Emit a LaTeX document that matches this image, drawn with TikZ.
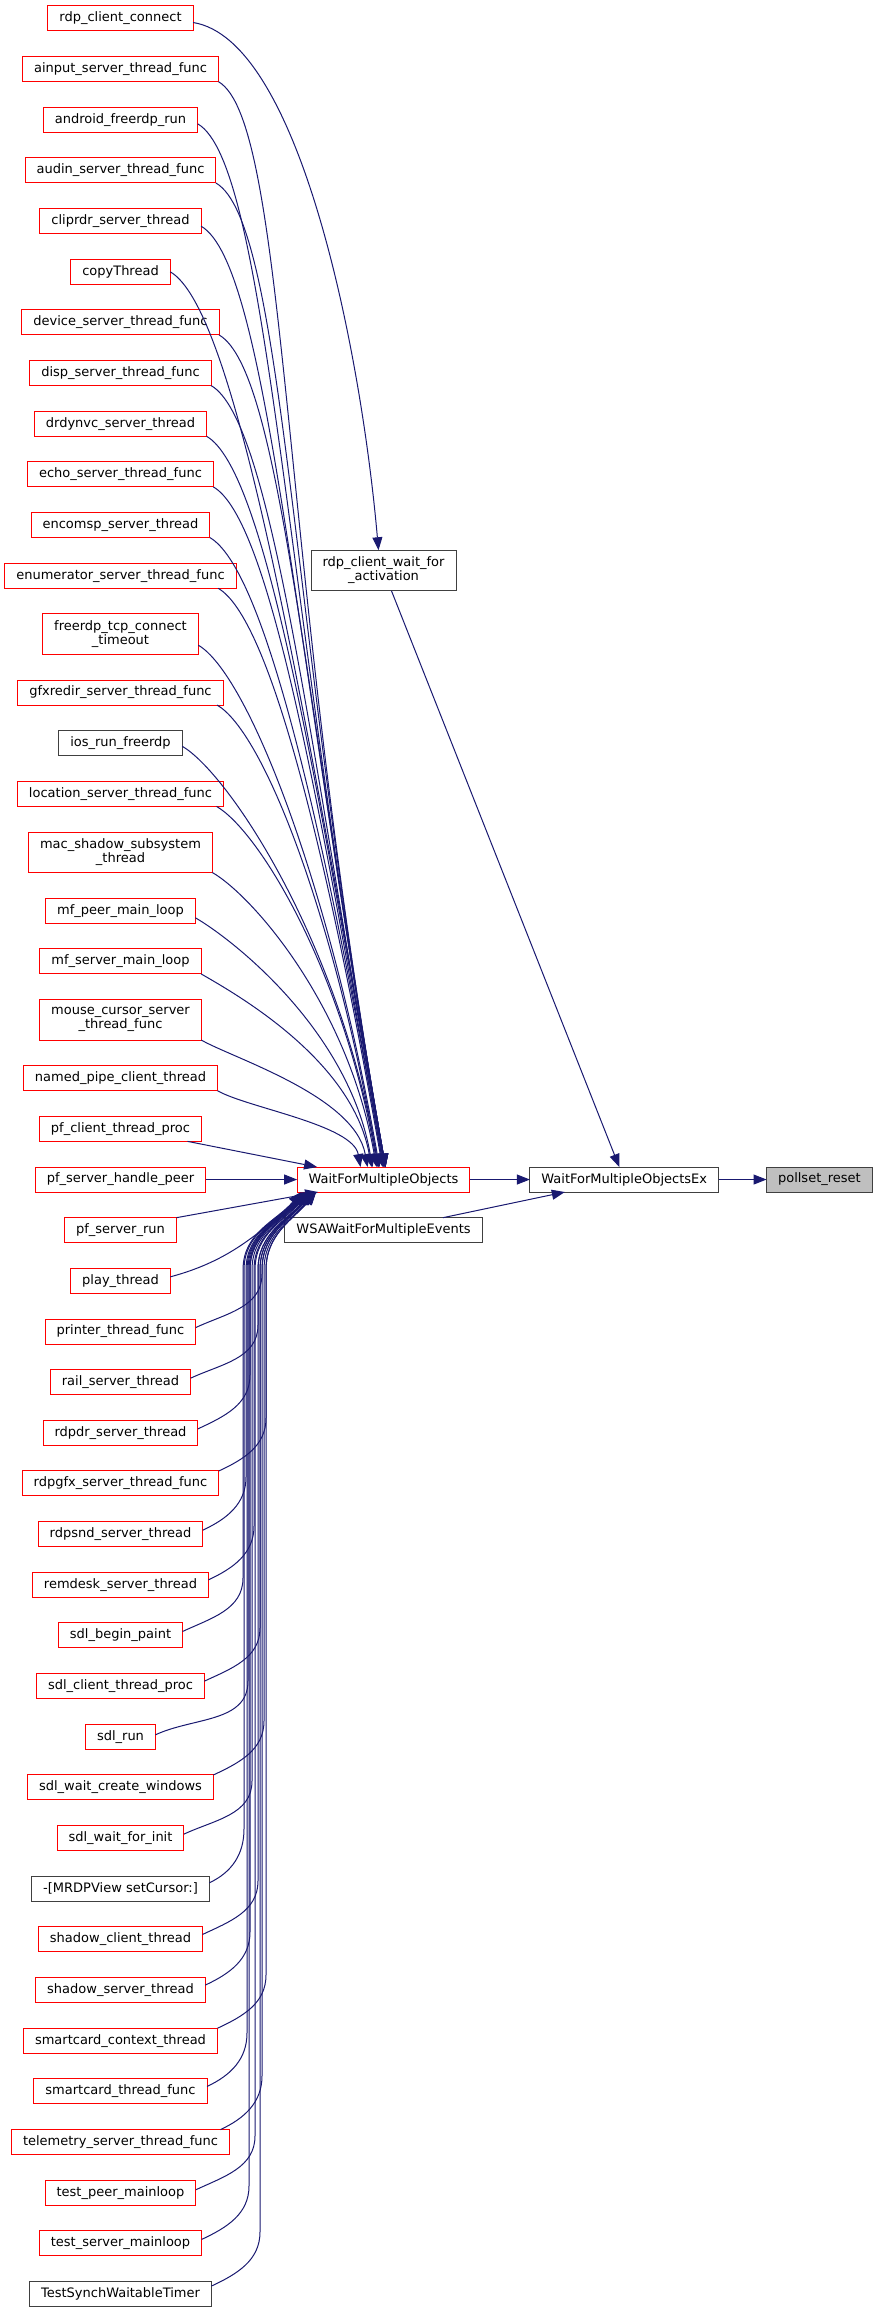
\documentclass[tikz,border=0pt]{standalone}
\usepackage{fontspec}
\setmainfont{DejaVu Sans}
\usetikzlibrary{arrows.meta,positioning}
\definecolor{edgeblue}{RGB}{25,25,112}
\definecolor{grey25}{RGB}{64,64,64}
\definecolor{grey75}{RGB}{191,191,191}

\begin{document}
\begin{tikzpicture}[x=1pt,y=-1pt,->,>={Triangle[length=13pt,width=10pt]},node distance=25.66pt,
  func node/.style={draw=grey25,line width=1pt,fill=white,inner xsep=11.5pt,inner ysep=6pt,minimum height=25pt,outer sep=0pt,align=center,font=\fontsize{13pt}{14pt}\selectfont},
  trunc node/.style={func node,draw=red}, focus node/.style={func node,fill=grey75},
  two line/.style={minimum height=40.5pt},
  call/.style={edgeblue,line width=1pt},
  upcall/.style 2 args={call,to path={.. controls +(-30:#1) and +(100:#2) .. (\tikztotarget) \tikztonodes}}]

  \useasboundingbox (0,0) rectangle (880,2315);

  \node[trunc node] (1) at (120.5,18.5) {rdp\_client\_connect};
  \node[trunc node] (2) [below=of 1] {ainput\_server\_thread\_func};
  \node[trunc node] (3) [below=of 2] {android\_freerdp\_run};
  \node[trunc node] (4) [below=of 3] {audin\_server\_thread\_func};
  \node[trunc node] (5) [below=of 4] {cliprdr\_server\_thread};
  \node[trunc node] (6) [below=of 5] {copyThread};
  \node[trunc node] (7) [below=of 6] {device\_server\_thread\_func};
  \node[trunc node] (8) [below=of 7] {disp\_server\_thread\_func};
  \node[trunc node] (9) [below=of 8] {drdynvc\_server\_thread};
  \node[trunc node] (10) [below=of 9] {echo\_server\_thread\_func};
  \node[trunc node] (11) [below=of 10] {encomsp\_server\_thread};
  \node[trunc node] (12) [below=of 11] {enumerator\_server\_thread\_func};
  \node[trunc node,two line] (13) [below=of 12] {freerdp\_tcp\_connect\\\_timeout};
  \node[trunc node] (14) [below=of 13] {gfxredir\_server\_thread\_func};
  \node[func node] (15) [below=of 14] {ios\_run\_freerdp};
  \node[trunc node] (16) [below=of 15] {location\_server\_thread\_func};
  \node[trunc node,two line] (17) [below=of 16] {mac\_shadow\_subsystem\\\_thread};
  \node[trunc node] (18) [below=of 17] {mf\_peer\_main\_loop};
  \node[trunc node] (19) [below=of 18] {mf\_server\_main\_loop};
  \node[trunc node,two line] (20) [below=of 19] {mouse\_cursor\_server\\\_thread\_func};
  \node[trunc node] (21) [below=of 20] {named\_pipe\_client\_thread};
  \node[trunc node] (22) [below=of 21] {pf\_client\_thread\_proc};
  \node[trunc node] (23) [below=of 22] {pf\_server\_handle\_peer};
  \node[trunc node] (24) [below=of 23] {pf\_server\_run};
  \node[trunc node] (25) [below=of 24] {play\_thread};
  \node[trunc node] (26) [below=of 25] {printer\_thread\_func};
  \node[trunc node] (27) [below=of 26] {rail\_server\_thread};
  \node[trunc node] (28) [below=of 27] {rdpdr\_server\_thread};
  \node[trunc node] (29) [below=of 28] {rdpgfx\_server\_thread\_func};
  \node[trunc node] (30) [below=of 29] {rdpsnd\_server\_thread};
  \node[trunc node] (31) [below=of 30] {remdesk\_server\_thread};
  \node[trunc node] (32) [below=of 31] {sdl\_begin\_paint};
  \node[trunc node] (33) [below=of 32] {sdl\_client\_thread\_proc};
  \node[trunc node] (34) [below=of 33] {sdl\_run};
  \node[trunc node] (35) [below=of 34] {sdl\_wait\_create\_windows};
  \node[trunc node] (36) [below=of 35] {sdl\_wait\_for\_init};
  \node[func node] (37) [below=of 36] {-[MRDPView setCursor:]};
  \node[trunc node] (38) [below=of 37] {shadow\_client\_thread};
  \node[trunc node] (39) [below=of 38] {shadow\_server\_thread};
  \node[trunc node] (40) [below=of 39] {smartcard\_context\_thread};
  \node[trunc node] (41) [below=of 40] {smartcard\_thread\_func};
  \node[trunc node] (42) [below=of 41] {telemetry\_server\_thread\_func};
  \node[trunc node] (43) [below=of 42] {test\_peer\_mainloop};
  \node[trunc node] (44) [below=of 43] {test\_server\_mainloop};
  \node[func node] (45) [below=of 44] {TestSynchWaitableTimer};

  \node[func node,two line] (46) at (383.5,570.5) {rdp\_client\_wait\_for\\\_activation};
  \node[trunc node] (47) at (23 -| 46) {WaitForMultipleObjects};
  \node[func node] (48) [below=of 47] {WSAWaitForMultipleEvents};
  \node[func node] (49) [right=60pt of 47] {WaitForMultipleObjectsEx};
  \node[focus node] (50) [right=48pt of 49] {pollset\_reset};

  \path[call]
    ([yshift=-4pt]1.east) edge[to path={.. controls +(-9:108pt) and +(95:200pt) .. (\tikztotarget)}] ([xshift=-5pt]46.north)
    (46) edge (49)
    (47) edge (49)
    (48) edge (49)
    (49) edge (50);

  \path[call]
    (2.south east) edge[upcall={80pt}{609pt}] ([xshift=2pt]47.north)
    ([yshift=-4pt]3.east) edge[upcall={80pt}{585pt}] ([xshift=2pt]47.north)
    (4.south east) edge[upcall={79pt}{552pt}] ([xshift=2pt]47.north)
    ([yshift=-5pt]5.east) edge[upcall={77pt}{528pt}] ([xshift=2pt]47.north)
    (6.east) edge[upcall={75pt}{502pt}] ([xshift=2pt]47.north)
    (7.south east) edge[upcall={72pt}{467pt}] ([xshift=2pt]47.north)
    (8.south east) edge[upcall={69pt}{438pt}] ([xshift=1pt]47.north)
    (9.south east) edge[upcall={67pt}{410pt}] ([xshift=1pt]47.north)
    (10.south east) edge[upcall={64pt}{382pt}] (47.north)
    (11.south east) edge[upcall={62pt}{353pt}] (47.north)
    ([xshift=-18pt]12.south east) edge[upcall={59pt}{325pt}] ([xshift=-1pt]47.north)
    ([yshift=-11pt]13.east) edge[upcall={56pt}{293pt}] ([xshift=-4pt]47.north)
    ([xshift=-6pt]14.south east) edge[upcall={53pt}{259pt}] ([xshift=-5pt]47.north)
    ([yshift=-3pt]15.east) edge[upcall={51pt}{236pt}] ([xshift=-5pt]47.north)
    ([xshift=-7pt]16.south east) edge[upcall={48pt}{203pt}] ([xshift=-6pt]47.north)
    (17.south east) edge[upcall={45pt}{166pt}] ([xshift=-7pt]47.north)
    ([yshift=-7pt]18.east) edge[upcall={42pt}{140pt}] ([xshift=-11pt]47.north)
    (19.south east) edge[upcall={40pt}{109pt}] ([xshift=-12pt]47.north)
    (20.south east) edge[upcall={36pt}{72pt}] ([xshift=-16pt]47.north)
    (21.south east) edge[upcall={34pt}{43pt}] ([xshift=-23pt]47.north)
    ([xshift=-14pt]22.south east) edge ([xshift=20pt]47.north west)
    (23) edge (47)
    (24.north east) edge ([xshift=21pt]47.south west)
    ([yshift=4pt]25.east) edge[out=15,in=-140] ([xshift=10pt]47.south west);

  % callers below run up in one bundle
  \draw[call] ([yshift=4pt]26.east) to[out=25,in=-90] (262,1274) -- (262,1270) to[out=90,in=-130] ([xshift=16pt]47.south west);
  \draw[call] ([yshift=4pt]27.east) to[out=25,in=-90] (258,1325) -- (258,1270) to[out=90,in=-130] ([xshift=14pt]47.south west);
  \draw[call] ([yshift=4pt]28.east) to[out=25,in=-90] (250,1375) -- (250,1270) to[out=90,in=-130] ([xshift=9pt]47.south west);
  \draw[call] (29.north east) to[out=25,in=-90] (266,1418) -- (266,1270) to[out=90,in=-130] ([xshift=19pt]47.south west);
  \draw[call] ([yshift=4pt]30.east) to[out=25,in=-90] (246,1477) -- (246,1270) to[out=90,in=-130] ([xshift=6pt]47.south west);
  \draw[call] ([yshift=5pt]31.east) to[out=25,in=-90] (254,1526) -- (254,1270) to[out=90,in=-130] ([xshift=11pt]47.south west);
  \draw[call] ([yshift=4pt]32.east) to[out=25,in=-90] (243,1578) -- (243,1270) to[out=90,in=-130] ([xshift=4pt]47.south west);
  \draw[call] ([yshift=5pt]33.east) to[out=25,in=-90] (260,1628) -- (260,1270) to[out=90,in=-130] ([xshift=15pt]47.south west);
  \draw[call] ([yshift=2pt]34.east) to[out=25,in=-90] (248,1681) -- (248,1270) to[out=90,in=-130] ([xshift=7pt]47.south west);
  \draw[call] (35.north east) to[out=25,in=-90] (264,1721) -- (264,1270) to[out=90,in=-130] ([xshift=18pt]47.south west);
  \draw[call] ([yshift=4pt]36.east) to[out=25,in=-90] (252,1781) -- (252,1270) to[out=90,in=-130] ([xshift=10pt]47.south west);
  \draw[call] ([yshift=6pt]37.east) to[out=25,in=-90] (244,1829) -- (244,1270) to[out=90,in=-130] ([xshift=5pt]47.south west);
  \draw[call] ([yshift=5pt]38.east) to[out=25,in=-90] (258,1881) -- (258,1270) to[out=90,in=-130] ([xshift=14pt]47.south west);
  \draw[call] ([yshift=5pt]39.east) to[out=25,in=-90] (250,1932) -- (250,1270) to[out=90,in=-130] ([xshift=9pt]47.south west);
  \draw[call] (40.north east) to[out=25,in=-90] (266,1975) -- (266,1270) to[out=90,in=-130] ([xshift=19pt]47.south west);
  \draw[call] ([yshift=5pt]41.east) to[out=25,in=-90] (247,2033) -- (247,1270) to[out=90,in=-130] ([xshift=7pt]47.south west);
  \draw[call] ([xshift=-9pt]42.north east) to[out=25,in=-90] (262,2076) -- (262,1270) to[out=90,in=-130] ([xshift=16pt]47.south west);
  \draw[call] ([yshift=3pt]43.east) to[out=25,in=-90] (255,2136) -- (255,1270) to[out=90,in=-130] ([xshift=12pt]47.south west);
  \draw[call] ([yshift=4pt]44.east) to[out=25,in=-90] (249,2186) -- (249,1270) to[out=90,in=-130] ([xshift=8pt]47.south west);
  \draw[call] ([yshift=8pt]45.east) to[out=25,in=-90] (260,2232) -- (260,1270) to[out=90,in=-130] ([xshift=15pt]47.south west);
\end{tikzpicture}
\end{document}
